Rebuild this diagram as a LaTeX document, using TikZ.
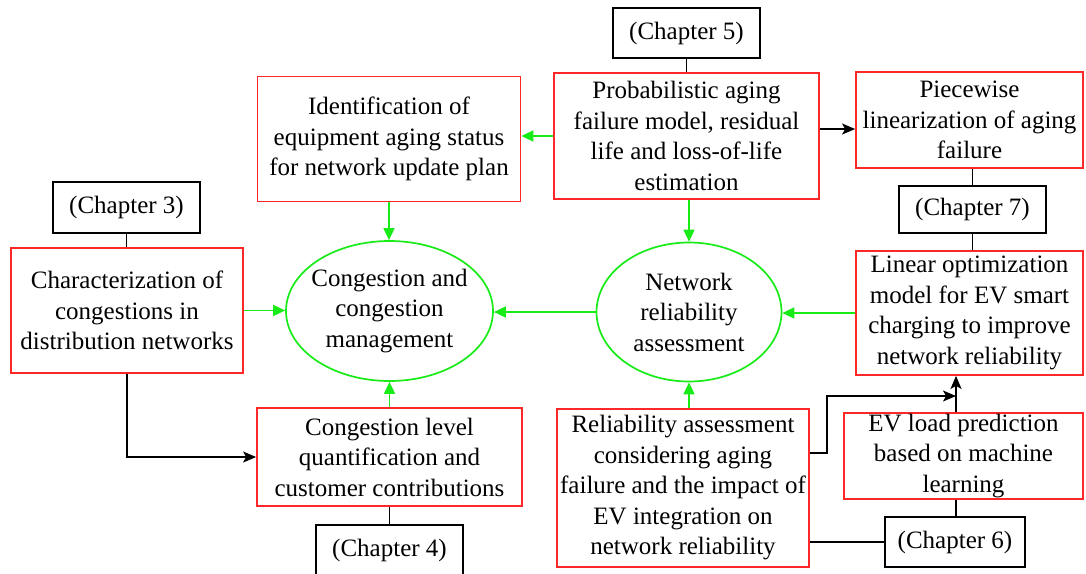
\documentclass[tikz,border=0pt]{standalone}
\usepackage{fontspec}
\setmainfont{Liberation Serif}
\usetikzlibrary{arrows.meta,shapes.geometric}
\definecolor{boxred}{RGB}{255,40,40}
\definecolor{flowgreen}{RGB}{25,235,25}
\begin{document}
\begin{tikzpicture}[x=1pt,y=-1pt,
  every node/.style={font=\fontsize{25}{30.5}\selectfont, align=center, inner sep=0pt},
  redbox/.style={draw=boxred, line width=1.8pt, rectangle},
  chapbox/.style={draw=black, line width=1.5pt, rectangle, minimum width=147pt, minimum height=50pt},
  topic/.style={draw=flowgreen, line width=1.7pt, ellipse},
  gflow/.style={draw=flowgreen, line width=1.7pt, -{Triangle[length=12pt,width=11pt]}},
  bflow/.style={draw=black, line width=1.5pt, -{Stealth[length=13pt,width=11pt,inset=3pt]}},
  blink/.style={draw=black, line width=1.5pt}]
\path[use as bounding box] (0,0) rectangle (1086,573);

% chapter labels
\node[chapbox] (ch5) at (686.5,33) {(Chapter 5)};
\node[chapbox, minimum height=47pt] (ch7) at (972.5,209.5) {(Chapter 7)};
\node[chapbox, minimum height=51pt] (ch3) at (126.5,207.5) {(Chapter 3)};
\node[chapbox] (ch4) at (389.5,550) {(Chapter 4)};
\node[chapbox, minimum width=140pt] (ch6) at (955,542) {(Chapter 6)};

% research topics
\node[redbox, minimum width=265pt, minimum height=126pt] (prob) at (686.5,136)
  {Probabilistic aging\\failure model, residual\\life and loss-of-life\\estimation};
\node[redbox, minimum width=263pt, minimum height=125pt] (ident) at (389,139)
  {Identification of\\equipment aging status\\for network update plan};
\node[redbox, minimum width=227pt, minimum height=96pt] (piece) at (969.5,120)
  {Piecewise\\linearization of aging\\failure};
\node[redbox, minimum width=227pt, minimum height=124pt] (linopt) at (969.5,313)
  {Linear optimization\\model for EV smart\\charging to improve\\network reliability};
\node[redbox, minimum width=232pt, minimum height=125pt] (charz) at (127,310.5)
  {Characterization of\\congestions in\\distribution networks};
\node[redbox, minimum width=265pt, minimum height=98pt] (conglev) at (389.5,457)
  {Congestion level\\quantification and\\customer contributions};
\node[redbox, minimum width=252pt, minimum height=158pt] (rel) at (683,488)
  {Reliability assessment\\considering aging\\failure and the impact of\\EV integration on\\network reliability};
\node[redbox, minimum width=239pt, minimum height=86pt] (ev) at (963.5,456)
  {EV load prediction\\based on machine\\learning};

% central themes
\node[topic, inner xsep=-5pt, minimum width=207pt, minimum height=140pt] (cong) at (389.5,311)
  {Congestion and\\congestion\\management};
\node[topic, minimum width=185pt, minimum height=139pt] (netrel) at (689,312)
  {Network\\reliability\\assessment};

% green flows
\draw[gflow] (prob.west) -- (prob.west -| ident.east);
\draw[gflow] (ident.south) -- (ident.south |- cong.north);
\draw[gflow] (charz.east) -- (charz.east -| cong.west);
\draw[gflow] (netrel.west) -- (netrel.west -| cong.east);
\draw[gflow] (linopt.west) -- (linopt.west -| netrel.east);
\draw[gflow] (prob.south -| netrel.north) -- (netrel.north);
\draw[gflow] (rel.north -| netrel.south) -- (netrel.south);
\draw[gflow] (conglev.north) -- (conglev.north |- cong.south);

% chapter links
\draw[blink] (ch5.south) -- (ch5.south |- prob.north);
\draw[blink] (piece.south -| ch7.north) -- (ch7.north);
\draw[blink] (ch7.south) -- (ch7.south |- linopt.north);
\draw[blink] (ch3.south) -- (ch3.south |- charz.north);
\draw[blink] (conglev.south) -- (conglev.south |- ch4.north);
\coordinate (evx) at (956,396);
\draw[blink] (ev.south -| evx) -- (ch6.north -| evx);
\draw[blink] (ch6.west) -- (ch6.west -| rel.east);

% black flows
\draw[bflow] ([yshift=7pt]prob.east) -- ([yshift=7pt]prob.east -| piece.west);
\draw[bflow] (charz.south) |- (conglev.west);
\draw[bflow] (ev.north -| evx) -- (linopt.south -| evx);
\draw[bflow] ([yshift=35pt]rel.east) -- ++(17,0) |- (evx);
\end{tikzpicture}
\end{document}
